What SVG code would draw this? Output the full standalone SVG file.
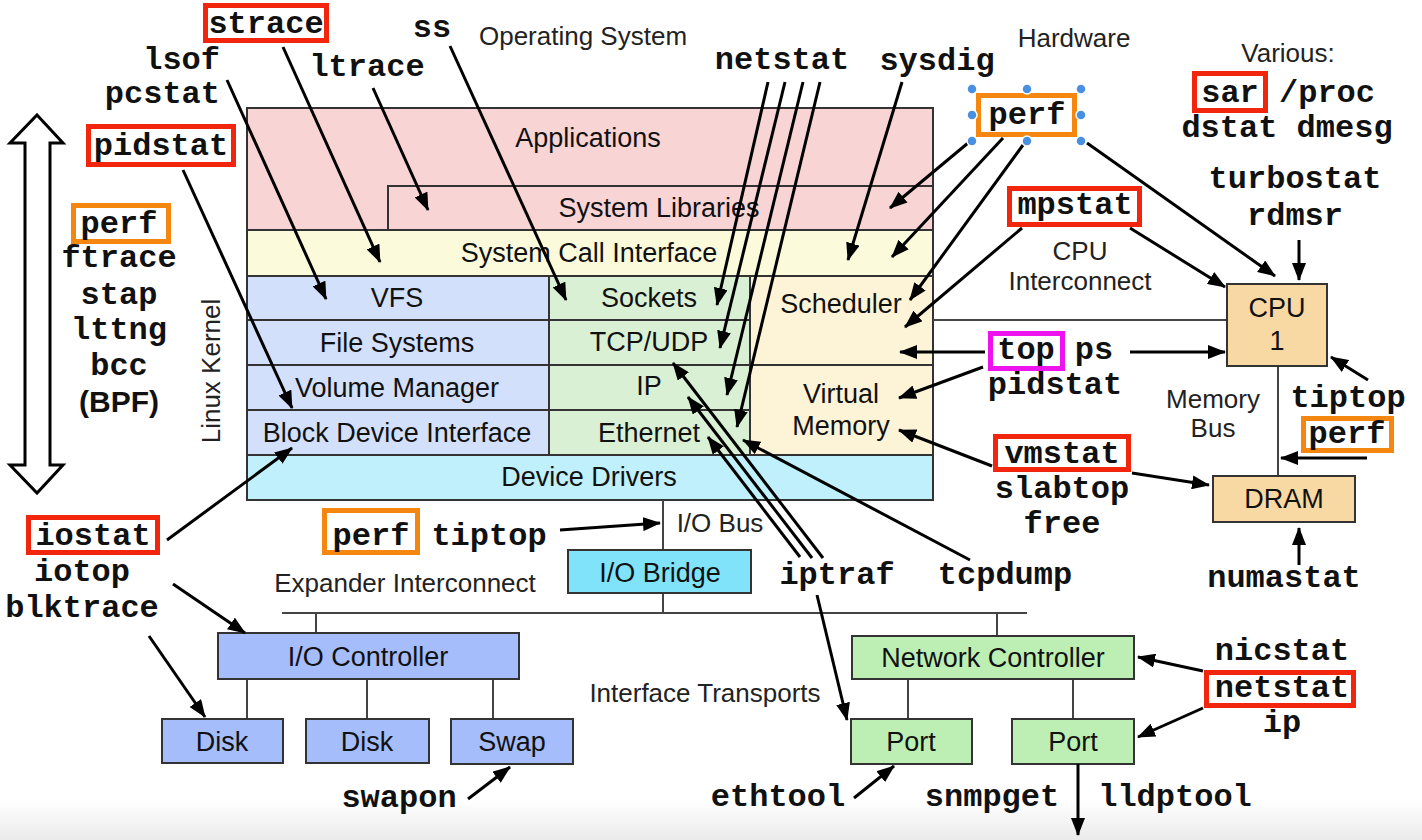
<svg xmlns="http://www.w3.org/2000/svg" width="1422" height="840" viewBox="0 0 1422 840">
<style>
.mono{font-family:"Liberation Mono","Courier New",monospace;font-weight:bold;font-size:32px;fill:#111;text-anchor:middle}
.sans{font-family:"Liberation Sans",Arial,sans-serif;font-size:27px;fill:#111;text-anchor:middle}
.lbl{font-family:"Liberation Sans",Arial,sans-serif;font-size:26px;fill:#222;text-anchor:middle}
.box{stroke:#333;stroke-width:2}
.bus{stroke:#444;stroke-width:2;fill:none}
.conn path{stroke:#000;stroke-width:3;fill:none;marker-end:url(#ah)}
.red{fill:none;stroke:#f1260c;stroke-width:5}
.org{fill:none;stroke:#f5860f;stroke-width:5}
.mag{fill:none;stroke:#ee12ee;stroke-width:5}
.hdl{fill:#4a90e2;stroke:#fff;stroke-width:1.5}
</style>
<defs>
<marker id="ah" markerUnits="userSpaceOnUse" viewBox="0 0 18 14" refX="17" refY="7" markerWidth="18" markerHeight="14" orient="auto">
<path d="M0,0 L18,7 L0,14 z" fill="#000"/>
</marker>
<linearGradient id="bottomfade" x1="0" y1="0" x2="0" y2="1">
<stop offset="0" stop-color="#ffffff"/>
<stop offset="1" stop-color="#ebebeb"/>
</linearGradient>
</defs>
<rect x="0" y="0" width="1422" height="840" fill="#fff"/>
<rect x="0" y="800" width="1422" height="40" fill="url(#bottomfade)"/>

<!-- section labels -->
<g id="section-labels">
<text class="lbl" x="583" y="45">Operating System</text>
<text class="lbl" x="1074" y="47">Hardware</text>
<text class="lbl" x="1288" y="62">Various:</text>
<text class="lbl" x="213" y="371" transform="rotate(-90 213 371)" dominant-baseline="middle">Linux Kernel</text>
<text class="lbl" x="1080" y="260">CPU</text>
<text class="lbl" x="1080" y="290">Interconnect</text>
<text class="lbl" x="1213" y="408">Memory</text>
<text class="lbl" x="1213" y="437">Bus</text>
<text class="lbl" x="720" y="532">I/O Bus</text>
<text class="lbl" x="405" y="592">Expander Interconnect</text>
<text class="lbl" x="705" y="702">Interface Transports</text>
</g>

<!-- double arrow -->
<g id="stack-arrow">
<polygon points="37,115 63,143 50,143 50,465 63,465 37,493 10,465 25,465 25,143 10,143" fill="#fff" stroke="#000" stroke-width="3" stroke-linejoin="miter"/>
</g>

<!-- kernel stack -->
<g id="applications"><rect class="box" x="247" y="108" width="686" height="122" fill="#f9d4d5"/><text class="sans" x="588" y="147">Applications</text></g>
<g id="system-libraries"><path d="M388,230 V186 H933" class="box" fill="none"/><text class="sans" x="659" y="217">System Libraries</text></g>
<g id="syscall"><rect class="box" x="247" y="230" width="686" height="46" fill="#fbfbdc"/><text class="sans" x="589" y="262">System Call Interface</text></g>
<g id="vfs"><rect class="box" x="247" y="276" width="302" height="44" fill="#d3e0fc"/><text class="sans" x="397" y="307">VFS</text></g>
<g id="filesystems"><rect class="box" x="247" y="320" width="302" height="45" fill="#d3e0fc"/><text class="sans" x="397" y="352">File Systems</text></g>
<g id="volume-manager"><rect class="box" x="247" y="365" width="302" height="45" fill="#d3e0fc"/><text class="sans" x="397" y="397">Volume Manager</text></g>
<g id="block-device"><rect class="box" x="247" y="410" width="302" height="45" fill="#d3e0fc"/><text class="sans" x="397" y="442">Block Device Interface</text></g>
<g id="sockets"><rect class="box" x="549" y="276" width="201" height="44" fill="#d9f0d4"/><text class="sans" x="649" y="307">Sockets</text></g>
<g id="tcpudp"><rect class="box" x="549" y="320" width="201" height="45" fill="#d9f0d4"/><text class="sans" x="649" y="351">TCP/UDP</text></g>
<g id="ip"><rect class="box" x="549" y="365" width="201" height="45" fill="#d9f0d4"/><text class="sans" x="649" y="395">IP</text></g>
<g id="ethernet"><rect class="box" x="549" y="410" width="201" height="45" fill="#d9f0d4"/><text class="sans" x="649" y="442">Ethernet</text></g>
<g id="scheduler"><rect class="box" x="750" y="276" width="183" height="89" fill="#fdf4d7"/><text class="sans" x="841" y="313">Scheduler</text></g>
<g id="virtual-memory"><rect class="box" x="750" y="365" width="183" height="90" fill="#fdf4d7"/><text class="sans" x="841" y="403">Virtual</text><text class="sans" x="841" y="435">Memory</text></g>
<g id="device-drivers"><rect class="box" x="247" y="455" width="686" height="45" fill="#c0f0fc"/><text class="sans" x="589" y="486">Device Drivers</text></g>

<!-- hardware -->
<g id="buses">
<line class="bus" x1="933" y1="320" x2="1227" y2="320"/>
<line class="bus" x1="1278" y1="366" x2="1278" y2="476"/>
<line class="bus" x1="663" y1="500" x2="663" y2="550"/>
<line class="bus" x1="663" y1="593" x2="663" y2="613"/>
<line class="bus" x1="282" y1="613" x2="1027" y2="613"/>
<line class="bus" x1="316" y1="613" x2="316" y2="633"/>
<line class="bus" x1="997" y1="613" x2="997" y2="636"/>
<line class="bus" x1="247" y1="679" x2="247" y2="719"/>
<line class="bus" x1="367" y1="679" x2="367" y2="719"/>
<line class="bus" x1="493" y1="679" x2="493" y2="719"/>
<line class="bus" x1="908" y1="679" x2="908" y2="719"/>
<line class="bus" x1="1073" y1="679" x2="1073" y2="719"/>
</g>
<g id="cpu"><rect class="box" x="1227" y="284" width="100" height="82" fill="#f9d9a3"/><text class="sans" x="1277" y="317">CPU</text><text class="sans" x="1277" y="350">1</text></g>
<g id="dram"><rect class="box" x="1213" y="476" width="142" height="46" fill="#f9d9a3"/><text class="sans" x="1284" y="508">DRAM</text></g>
<g id="io-bridge"><rect class="box" x="568" y="550" width="183" height="43" fill="#80e3fa"/><text class="sans" x="660" y="582">I/O Bridge</text></g>
<g id="io-controller"><rect class="box" x="218" y="633" width="301" height="46" fill="#a6bdfb"/><text class="sans" x="368" y="666">I/O Controller</text></g>
<g id="disk1"><rect class="box" x="162" y="719" width="121" height="44" fill="#a6bdfb"/><text class="sans" x="222" y="751">Disk</text></g>
<g id="disk2"><rect class="box" x="306" y="719" width="123" height="44" fill="#a6bdfb"/><text class="sans" x="367" y="751">Disk</text></g>
<g id="swap"><rect class="box" x="451" y="719" width="122" height="45" fill="#a6bdfb"/><text class="sans" x="512" y="751">Swap</text></g>
<g id="network-controller"><rect class="box" x="852" y="636" width="282" height="43" fill="#bdefb4"/><text class="sans" x="993" y="667">Network Controller</text></g>
<g id="port1"><rect class="box" x="851" y="719" width="121" height="45" fill="#bdefb4"/><text class="sans" x="911" y="751">Port</text></g>
<g id="port2"><rect class="box" x="1012" y="719" width="122" height="45" fill="#bdefb4"/><text class="sans" x="1073" y="751">Port</text></g>

<!-- connectors -->
<g class="conn" id="connectors">
<path d="M283,47 L380,262"/>
<path d="M450,46 L566,300"/>
<path d="M373,88 L428,210"/>
<path d="M227,80 L326,299"/>
<path d="M183,170 L292,408"/>
<path d="M167,540 L292,448"/>
<path d="M768,82 L717,305"/>
<path d="M785,82 L720,348"/>
<path d="M803,82 L727,395"/>
<path d="M820,82 L737,427"/>
<path d="M902,82 L848,260"/>
<path d="M968,143 L890,208"/>
<path d="M1003,138 L892,257"/>
<path d="M1023,145 L910,300"/>
<path d="M1087,143 L1275,276"/>
<path d="M1022,228 L905,327"/>
<path d="M1130,228 L1225,287"/>
<path d="M1299,240 L1299,280"/>
<path d="M985,352 L900,352"/>
<path d="M1130,352 L1225,352"/>
<path d="M983,367 L899,398"/>
<path d="M992,466 L899,430"/>
<path d="M1132,473 L1209,485"/>
<path d="M1368,380 L1331,357"/>
<path d="M1367,458 L1281,458"/>
<path d="M1299,565 L1299,528"/>
<path d="M970,560 L743,440"/>
<path d="M823,558 L673,363"/>
<path d="M812,558 L688,397"/>
<path d="M800,557 L708,437"/>
<path d="M817,595 L847,720"/>
<path d="M560,530 L660,523"/>
<path d="M173,584 L245,633"/>
<path d="M149,636 L205,717"/>
<path d="M468,799 L510,767"/>
<path d="M854,798 L894,766"/>
<path d="M1203,671 L1138,657"/>
<path d="M1203,708 L1138,737"/>
<path d="M1078,764 L1078,835"/>
</g>

<!-- tools -->
<g id="tool-strace"><rect class="red" x="205.5" y="5.5" width="121" height="35"/><text class="mono" x="266" y="33">strace</text></g>
<g id="tool-ss"><text class="mono" x="432" y="37">ss</text></g>
<g id="tool-lsof"><text class="mono" x="220" y="69" style="text-anchor:end">lsof</text><text class="mono" x="220" y="103" style="text-anchor:end">pcstat</text></g>
<g id="tool-ltrace"><text class="mono" x="367" y="76">ltrace</text></g>
<g id="tool-pidstat-left"><rect class="red" x="88.5" y="126.5" width="145" height="38"/><text class="mono" x="161" y="155">pidstat</text></g>
<g id="tool-tracers">
<rect class="org" x="73.5" y="205.5" width="95" height="36"/>
<text class="mono" x="119" y="233">perf</text>
<text class="mono" x="119" y="267">ftrace</text>
<text class="mono" x="119" y="304">stap</text>
<text class="mono" x="119" y="339">lttng</text>
<text class="mono" x="119" y="375">bcc</text>
<text class="sans" x="119" y="412" style="font-weight:bold;font-size:30px">(BPF)</text>
</g>
<g id="tool-netstat-top"><text class="mono" x="782" y="69">netstat</text></g>
<g id="tool-sysdig"><text class="mono" x="937" y="70">sysdig</text></g>
<g id="tool-perf-top">
<rect class="org" x="978.5" y="95.5" width="96" height="39"/>
<text class="mono" x="1027" y="124">perf</text>
<circle class="hdl" cx="972" cy="89" r="5"/><circle class="hdl" cx="1027" cy="89" r="5"/><circle class="hdl" cx="1081" cy="89" r="5"/>
<circle class="hdl" cx="972" cy="115" r="5"/><circle class="hdl" cx="1081" cy="115" r="5"/>
<circle class="hdl" cx="972" cy="141" r="5"/><circle class="hdl" cx="1027" cy="141" r="5"/><circle class="hdl" cx="1081" cy="141" r="5"/>
</g>
<g id="tool-various">
<rect class="red" x="1194.5" y="73.5" width="71" height="37"/>
<text class="mono" x="1230" y="102">sar</text>
<text class="mono" x="1327" y="102">/proc</text>
<text class="mono" x="1287" y="137">dstat dmesg</text>
</g>
<g id="tool-turbostat"><text class="mono" x="1295" y="188">turbostat</text><text class="mono" x="1295" y="225">rdmsr</text></g>
<g id="tool-mpstat"><rect class="red" x="1009.5" y="188.5" width="130" height="36"/><text class="mono" x="1075" y="214">mpstat</text></g>
<g id="tool-top">
<rect class="mag" x="990.5" y="333.5" width="72" height="35"/>
<text class="mono" x="1026" y="359">top</text>
<text class="mono" x="1094" y="359">ps</text>
<text class="mono" x="1055" y="394">pidstat</text>
</g>
<g id="tool-tiptop-right">
<text class="mono" x="1348" y="407">tiptop</text>
<rect class="org" x="1303.5" y="418.5" width="88" height="32"/>
<text class="mono" x="1347" y="443">perf</text>
</g>
<g id="tool-vmstat">
<rect class="red" x="995.5" y="436.5" width="133" height="33"/>
<text class="mono" x="1062" y="463">vmstat</text>
<text class="mono" x="1062" y="498">slabtop</text>
<text class="mono" x="1062" y="533">free</text>
</g>
<g id="tool-numastat"><text class="mono" x="1284" y="587">numastat</text></g>
<g id="tool-iostat">
<rect class="red" x="28.5" y="517.5" width="129" height="35"/>
<text class="mono" x="93" y="545">iostat</text>
<text class="mono" x="82" y="581">iotop</text>
<text class="mono" x="82" y="617">blktrace</text>
</g>
<g id="tool-perf-bottom">
<rect class="org" x="324.5" y="510.5" width="93" height="42"/>
<text class="mono" x="371" y="545">perf</text>
<text class="mono" x="489" y="545">tiptop</text>
</g>
<g id="tool-iptraf"><text class="mono" x="837" y="584">iptraf</text></g>
<g id="tool-tcpdump"><text class="mono" x="1005" y="584">tcpdump</text></g>
<g id="tool-nicstat">
<text class="mono" x="1282" y="660">nicstat</text>
<rect class="red" x="1206.5" y="672.5" width="147" height="33"/>
<text class="mono" x="1282" y="697">netstat</text>
<text class="mono" x="1282" y="732">ip</text>
</g>
<g id="tool-swapon"><text class="mono" x="399" y="807">swapon</text></g>
<g id="tool-ethtool"><text class="mono" x="778" y="806">ethtool</text></g>
<g id="tool-snmpget"><text class="mono" x="992" y="806">snmpget</text></g>
<g id="tool-lldptool"><text class="mono" x="1175" y="806">lldptool</text></g>
</svg>
